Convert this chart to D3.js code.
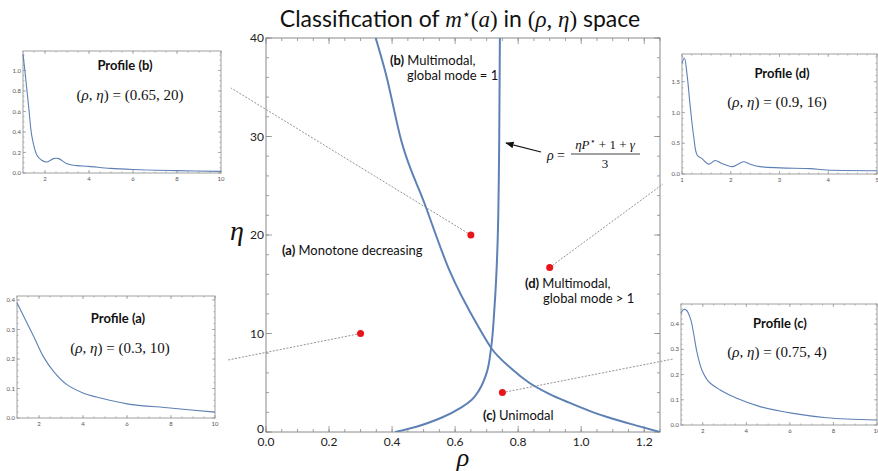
<!DOCTYPE html>
<html lang="en">
<head>
<meta charset="UTF-8">
<title>Classification of m*(a)</title>
<script src="https://cdn.jsdelivr.net/npm/d3@7"></script>
<style>
  body { margin: 0; background: #fff; }
  text { font-family: Lato, "Open Sans", sans-serif; }
  .math { font-family: "Liberation Serif", "DejaVu Serif", serif; }
</style>
</head>
<body>
<script>
// boundary curves (rho, eta)
const boundaryMonotone = [
  [0.348, 40], [0.38, 36.4], [0.429, 29.6], [0.503, 23.2], [0.582, 16.4],
  [0.677, 10.5], [0.715, 8.5], [0.78, 6.4], [0.835, 5.0], [0.9, 3.85], [0.96, 3.0],
  [1.03, 2.1], [1.1, 1.35], [1.17, 0.7], [1.25, 0]
];
const boundaryMode = [
  [0.41, 0], [0.477, 0.54], [0.56, 1.5], [0.62, 2.5], [0.652, 3.25], [0.677, 4.3],
  [0.70, 6.0], [0.714, 8.5], [0.725, 12.7], [0.735, 19.5], [0.74, 30], [0.742, 40]
];

const rhoTicks = [0, 0.2, 0.4, 0.6, 0.8, 1.0, 1.2];
const etaTicks = [0, 10, 20, 30, 40];

// sample points shown with their profiles
const sampleIds = ["a", "b", "c", "d"];
const sampleRho = [0.3, 0.65, 0.75, 0.9];
const sampleEta = [10, 20, 4, 16.7];
const sampleLabel = ["(0.3, 10)", "(0.65, 20)", "(0.75, 4)", "(0.9, 16)"];

// profile curves m*(a)
const profileA = [[1, 0.391], [1.76, 0.276], [2.2, 0.208], [2.66, 0.158], [3.27, 0.113],
  [4.0, 0.085], [4.78, 0.068], [6, 0.048], [7.96, 0.034], [10, 0.02]];
const profileB = [[1, 1.16], [1.1, 0.97], [1.26, 0.64], [1.41, 0.35], [1.64, 0.17], [1.85, 0.125],
  [2.09, 0.107], [2.39, 0.14], [2.62, 0.14], [3.0, 0.09], [3.45, 0.072], [3.98, 0.065],
  [4.96, 0.045], [6, 0.034], [8, 0.023], [10, 0.016]];
const profileC = [[1, 0.443], [1.12, 0.458], [1.24, 0.456], [1.43, 0.423], [1.58, 0.363],
  [1.73, 0.29], [1.96, 0.218], [2.27, 0.172], [2.8, 0.139], [3.56, 0.106], [4.63, 0.073],
  [6.15, 0.046], [7.68, 0.029], [10, 0.02]];
const profileD = [[1, 1.8], [1.05, 1.88], [1.1, 1.64], [1.17, 1.09], [1.24, 0.61], [1.31, 0.31],
  [1.41, 0.25], [1.55, 0.16], [1.68, 0.22], [1.82, 0.17], [2.03, 0.12], [2.13, 0.15],
  [2.26, 0.2], [2.4, 0.16], [2.6, 0.12], [3.02, 0.10], [3.63, 0.087], [3.97, 0.065], [5, 0.054]];

const blue = "#5e81b5";
const W = 878, H = 471;

const svg = d3.select("body").append("svg")
  .attr("width", W).attr("height", H);

// title
const title = svg.append("text")
  .attr("x", 460).attr("y", 27)
  .attr("text-anchor", "middle")
  .attr("font-size", 23)
  .attr("fill", "#111");
title.append("tspan").text("Classification of ");
title.append("tspan").attr("class", "math").attr("font-style", "italic").text("m");
title.append("tspan").attr("class", "math").attr("font-size", 14).attr("dy", -8).text("⋆");
title.append("tspan").attr("class", "math").attr("dy", 8).text("(");
title.append("tspan").attr("class", "math").attr("font-style", "italic").text("a");
title.append("tspan").attr("class", "math").text(")");
title.append("tspan").text(" in ");
title.append("tspan").attr("class", "math").text("(");
title.append("tspan").attr("class", "math").attr("font-style", "italic").text("ρ");
title.append("tspan").attr("class", "math").text(", ");
title.append("tspan").attr("class", "math").attr("font-style", "italic").text("η");
title.append("tspan").attr("class", "math").text(")");
title.append("tspan").text(" space");

// draws a Mathematica-like frame with ticks on all four sides
function drawFrame(g, x, y, xMajor, xMinor, yMajor, yMinor, opt) {
  const [x0, x1] = x.range(), [y0, y1] = y.range();
  g.append("rect")
    .attr("x", x0).attr("y", y1)
    .attr("width", x1 - x0).attr("height", y0 - y1)
    .attr("fill", "none").attr("stroke", opt.frame).attr("stroke-width", 1);
  const tk = g.append("g").attr("stroke", opt.frame).attr("stroke-width", 0.8);
  function xt(v, len) {
    tk.append("line").attr("x1", x(v)).attr("x2", x(v)).attr("y1", y0).attr("y2", y0 - len);
    tk.append("line").attr("x1", x(v)).attr("x2", x(v)).attr("y1", y1).attr("y2", y1 + len);
  }
  function yt(v, len) {
    tk.append("line").attr("x1", x0).attr("x2", x0 + len).attr("y1", y(v)).attr("y2", y(v));
    tk.append("line").attr("x1", x1).attr("x2", x1 - len).attr("y1", y(v)).attr("y2", y(v));
  }
  xMinor.forEach(v => xt(v, opt.minor));
  xMajor.forEach(v => xt(v, opt.major));
  yMinor.forEach(v => yt(v, opt.minor));
  yMajor.forEach(v => yt(v, opt.major));

  g.selectAll(null).data(xMajor).enter().append("text")
    .attr("x", d => x(d)).attr("y", y0 + opt.fs + 1.5)
    .attr("text-anchor", "middle")
    .attr("font-family", "Liberation Sans, Arial, sans-serif")
    .attr("font-size", opt.fs).attr("fill", opt.label)
    .text(opt.xfmt);
  g.selectAll(null).data(yMajor).enter().append("text")
    .attr("x", x0 - 2).attr("y", d => y(d) + opt.fs * 0.35 - (d === yMajor[0] ? opt.lift : 0))
    .attr("text-anchor", "end")
    .attr("font-family", "Liberation Sans, Arial, sans-serif")
    .attr("font-size", opt.fs).attr("fill", opt.label)
    .text(opt.yfmt);
}

function steps(a, b, s) {
  return d3.range(Math.round((b - a) / s) + 1).map(i => +(a + i * s).toFixed(4));
}

// ---- main plot ----
const x = d3.scaleLinear().domain([0, 1.25]).range([266, 660]);
const y = d3.scaleLinear().domain([0, 40]).range([432, 38]);
const main = svg.append("g");

drawFrame(main, x, y, rhoTicks, steps(0, 1.25, 0.05), etaTicks, steps(0, 40, 2), {
  frame: "#8a8a8a", label: "#222", major: 6, minor: 3, fs: 12, lift: 3,
  xfmt: d3.format(".1f"), yfmt: d => d
});

svg.append("clipPath").attr("id", "mainclip").append("rect")
  .attr("x", 266).attr("y", 38).attr("width", 394).attr("height", 394);

main.append("path")
  .datum(boundaryMonotone)
  .attr("clip-path", "url(#mainclip)")
  .attr("fill", "none").attr("stroke", blue).attr("stroke-width", 2)
  .attr("d", d3.line().x(d => x(d[0])).y(d => y(d[1])).curve(d3.curveMonotoneX));

main.append("path")
  .datum(boundaryMode)
  .attr("clip-path", "url(#mainclip)")
  .attr("fill", "none").attr("stroke", blue).attr("stroke-width", 2)
  .attr("d", d3.line().x(d => x(d[0])).y(d => y(d[1])).curve(d3.curveMonotoneY));

// axis labels
svg.append("text").attr("class", "math")
  .attr("x", 463).attr("y", 466).attr("text-anchor", "middle")
  .attr("font-size", 26).attr("font-style", "italic").attr("fill", "#111")
  .text("ρ");
svg.append("text").attr("class", "math")
  .attr("x", 237).attr("y", 240).attr("text-anchor", "middle")
  .attr("font-size", 28).attr("font-style", "italic").attr("fill", "#111")
  .text("η");

// region labels
function regionLabel(px, py, tag, lines) {
  const t = svg.append("text").attr("x", px).attr("y", py)
    .attr("font-size", 13).attr("fill", "#111");
  t.append("tspan").attr("font-weight", "bold").text(tag + " ");
  t.append("tspan").text(lines[0]);
  if (lines[1]) {
    svg.append("text").attr("x", px + lines[2]).attr("y", py + 15)
      .attr("font-size", 13).attr("fill", "#111").text(lines[1]);
  }
}
regionLabel(390, 65, "(b)", ["Multimodal,", "global mode = 1", 17]);
regionLabel(282, 255, "(a)", ["Monotone decreasing"]);
regionLabel(525, 288, "(d)", ["Multimodal,", "global mode > 1", 18]);
regionLabel(483, 420, "(c)", ["Unimodal"]);

// formula annotation with arrow
svg.append("defs").append("marker")
  .attr("id", "arr").attr("viewBox", "0 0 10 10")
  .attr("refX", 9).attr("refY", 5)
  .attr("markerWidth", 7).attr("markerHeight", 7)
  .attr("orient", "auto")
  .append("path").attr("d", "M0,1 L10,5 L0,9 Z").attr("fill", "#111");
svg.append("line")
  .attr("x1", 541).attr("y1", 152).attr("x2", 506).attr("y2", 143)
  .attr("stroke", "#111").attr("stroke-width", 1.2)
  .attr("marker-end", "url(#arr)");

const fml = svg.append("g").attr("fill", "#111");
fml.append("text").attr("x", 547).attr("y", 160).attr("font-size", 14)
  .attr("font-style", "italic").attr("class", "math").text("ρ");
fml.append("text").attr("x", 557).attr("y", 160).attr("font-size", 14)
  .attr("class", "math").text("=");
const num = fml.append("text").attr("x", 605).attr("y", 149).attr("font-size", 13)
  .attr("text-anchor", "middle").attr("class", "math");
num.append("tspan").attr("font-style", "italic").text("ηP");
num.append("tspan").attr("font-size", 9).attr("dy", -5).text("⋆");
num.append("tspan").attr("dy", 5).text(" + 1 + ");
num.append("tspan").attr("font-style", "italic").text("γ");
fml.append("line").attr("x1", 571).attr("x2", 640).attr("y1", 154).attr("y2", 154)
  .attr("stroke", "#111").attr("stroke-width", 0.8);
fml.append("text").attr("x", 605).attr("y", 168).attr("font-size", 13)
  .attr("text-anchor", "middle").attr("class", "math").text("3");

// ---- insets ----
const insets = [
  { id: "a", data: profileA, box: [17, 296, 215, 418], xd: [1, 10], yd: [0, 0.4135],
    xMaj: [2, 4, 6, 8, 10], xMin: steps(1, 10, 0.5), yMaj: [0, 0.1, 0.2, 0.3, 0.4], yMin: steps(0, 0.4, 0.02),
    tpos: [118, 323], fpos: [120, 353], lead: [228, 360] },
  { id: "b", data: profileB, box: [23, 51, 221, 173], xd: [1, 10], yd: [0, 1.19],
    xMaj: [2, 4, 6, 8, 10], xMin: steps(1, 10, 0.5), yMaj: [0, 0.2, 0.4, 0.6, 0.8, 1.0], yMin: steps(0, 1.15, 0.05),
    tpos: [125, 70], fpos: [130, 100], lead: [231, 88] },
  { id: "c", data: profileC, box: [681, 304, 877, 425], xd: [1, 10], yd: [0, 0.48],
    xMaj: [2, 4, 6, 8, 10], xMin: steps(1, 10, 0.5), yMaj: [0, 0.1, 0.2, 0.3, 0.4], yMin: steps(0, 0.48, 0.02),
    tpos: [780, 328], fpos: [777, 357], lead: [673, 359] },
  { id: "d", data: profileD, box: [682, 54, 877, 174], xd: [1, 5], yd: [0, 1.95],
    xMaj: [1, 2, 3, 4, 5], xMin: steps(1, 5, 0.2), yMaj: [0, 0.5, 1.0, 1.5], yMin: steps(0, 1.9, 0.1),
    tpos: [782, 78], fpos: [777, 107], lead: [663, 184] }
];

// leader lines from points to insets
insets.forEach(p => {
  const i = sampleIds.indexOf(p.id);
  svg.append("line")
    .attr("x1", x(sampleRho[i])).attr("y1", y(sampleEta[i]))
    .attr("x2", p.lead[0]).attr("y2", p.lead[1])
    .attr("stroke", "#888").attr("stroke-width", 0.9)
    .attr("stroke-dasharray", "2,1.5");
});

// sample points
svg.selectAll(".pt").data(sampleIds).enter().append("circle")
  .attr("class", "pt")
  .attr("cx", (d, i) => x(sampleRho[i]))
  .attr("cy", (d, i) => y(sampleEta[i]))
  .attr("r", 3.5).attr("fill", "#e8141b");

insets.forEach(p => {
  const g = svg.append("g");
  const ix = d3.scaleLinear().domain(p.xd).range([p.box[0], p.box[2]]);
  const iy = d3.scaleLinear().domain(p.yd).range([p.box[3], p.box[1]]);
  drawFrame(g, ix, iy, p.xMaj, p.xMin, p.yMaj, p.yMin, {
    frame: "#a0a0a0", label: "#555", major: 3, minor: 1.5, fs: 6, lift: 0,
    xfmt: d => d, yfmt: d3.format(".1f")
  });
  g.append("path").datum(p.data)
    .attr("fill", "none").attr("stroke", blue).attr("stroke-width", 1.1)
    .attr("d", d3.line().x(d => ix(d[0])).y(d => iy(d[1])).curve(d3.curveCatmullRom.alpha(0.5)));

  g.append("text").attr("x", p.tpos[0]).attr("y", p.tpos[1])
    .attr("text-anchor", "middle").attr("font-size", 13).attr("font-weight", "bold")
    .attr("fill", "#111").text("Profile (" + p.id + ")");

  const i = sampleIds.indexOf(p.id);
  const f = g.append("text").attr("class", "math")
    .attr("x", p.fpos[0]).attr("y", p.fpos[1])
    .attr("text-anchor", "middle").attr("font-size", 15).attr("fill", "#111");
  f.append("tspan").text("(");
  f.append("tspan").attr("font-style", "italic").text("ρ");
  f.append("tspan").text(", ");
  f.append("tspan").attr("font-style", "italic").text("η");
  f.append("tspan").text(") = " + sampleLabel[i]);
});
</script>
</body>
</html>
